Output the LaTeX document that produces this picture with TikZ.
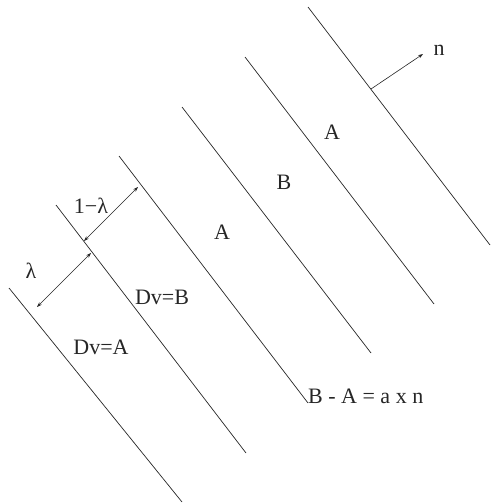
\documentclass[tikz,border=0pt]{standalone}
\usepackage{fontspec}
\setmainfont{Liberation Serif}
\usetikzlibrary{arrows.meta}
\begin{document}
\begin{tikzpicture}[x=1pt,y=-1pt,
  wall/.style={line width=0.7pt, draw=black!85},
  lab/.style={font=\fontsize{22}{26}\selectfont, inner sep=0pt, text=black!85},
  dimarrow/.style={line width=0.6pt, draw=black!85, {Stealth[length=5pt,width=3.5pt]}-{Stealth[length=5pt,width=3.5pt]}},
  normarrow/.style={line width=0.6pt, draw=black!85, -{Stealth[length=5pt,width=3.5pt]}}]
\useasboundingbox (0,0) rectangle (490,503);
% interface lines
\coordinate (l1a) at (9,288);   \coordinate (l1b) at (182,502);
\coordinate (l2a) at (56,205);  \coordinate (l2b) at (246,453);
\coordinate (l3a) at (119,156); \coordinate (l3b) at (308,403);
\coordinate (l4a) at (182,107); \coordinate (l4b) at (371,353);
\coordinate (l5a) at (245,57);  \coordinate (l5b) at (434,304);
\coordinate (l6a) at (308,7);   \coordinate (l6b) at (490,245);
\draw[wall] (l1a) -- (l1b);
\draw[wall] (l2a) -- (l2b);
\draw[wall] (l3a) -- (l3b);
\draw[wall] (l4a) -- (l4b);
\draw[wall] (l5a) -- (l5b);
\draw[wall] (l6a) -- (l6b);
% dimension arrows
\coordinate (d1a) at (84,241);  \coordinate (d1b) at (138,187);
\coordinate (d2a) at (37,307);  \coordinate (d2b) at (91,253);
\draw[dimarrow] (d1a) -- (d1b);
\draw[dimarrow] (d2a) -- (d2b);
% normal
\coordinate (n0) at (371,89); \coordinate (n1) at (423,54);
\draw[normarrow] (n0) -- (n1);
% labels
\node[lab] (tn) at (439,50) {n};
\node[lab] (tA1) at (332,132) {A};
\node[lab] (tB) at (284,182) {B};
\node[lab] (tA2) at (222,232) {A};
\node[lab] (tonel) at (91,206) {1−λ};
\node[lab] (tl) at (31,271) {λ};
\node[lab] (tdvb) at (162,297) {Dv=B};
\node[lab] (tdva) at (101,347) {Dv=A};
\node[lab, anchor=west] (tjump) at (308,396) {B - A = a x n};
\end{tikzpicture}
\end{document}
